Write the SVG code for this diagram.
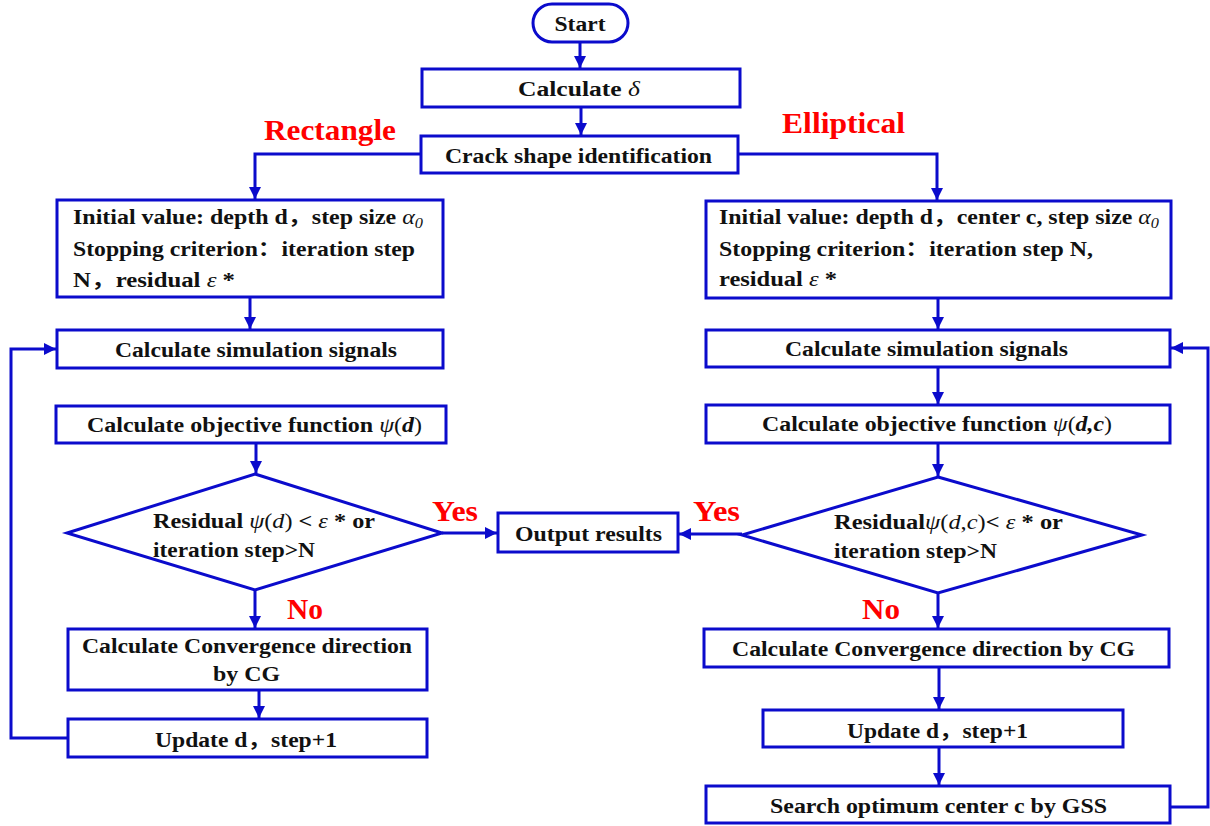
<svg xmlns="http://www.w3.org/2000/svg" width="1210" height="826" viewBox="0 0 1210 826">
<defs>
<style>
.box{fill:#fff;stroke:#0b0bcc;stroke-width:3}
.ln{fill:none;stroke:#0b0bcc;stroke-width:3}
.t{font-family:"Liberation Serif","Noto Sans CJK SC",serif;font-weight:bold;font-size:20.5px;fill:#111}
.c{text-anchor:middle}
.m{font-style:italic;font-weight:normal}
.mb{font-style:italic;font-weight:bold}
.red{font-family:"Liberation Serif",serif;font-weight:bold;font-size:30px;fill:#ff0000}
</style>
<marker id="ah" viewBox="0 0 12 12" refX="12" refY="6" markerWidth="12" markerHeight="12" markerUnits="userSpaceOnUse" orient="auto"><path d="M0,0 L12,6 L0,12 z" fill="#0b0bcc"/></marker>
</defs>
<rect width="1210" height="826" fill="#fff"/>
<g id="connectors">
<path class="ln" d="M580,43 V68" marker-end="url(#ah)"/>
<path class="ln" d="M581,107 V135" marker-end="url(#ah)"/>
<path class="ln" d="M421,154 H255 V199" marker-end="url(#ah)"/>
<path class="ln" d="M738,154 H937 V200" marker-end="url(#ah)"/>
<path class="ln" d="M250,297 V329" marker-end="url(#ah)"/>
<path class="ln" d="M256,443 V473" marker-end="url(#ah)"/>
<path class="ln" d="M255,590 V628" marker-end="url(#ah)"/>
<path class="ln" d="M259,690 V718" marker-end="url(#ah)"/>
<path class="ln" d="M68,738 H11 V349 H56" marker-end="url(#ah)"/>
<path class="ln" d="M442,533 H497" marker-end="url(#ah)"/>
<path class="ln" d="M742,534 H679" marker-end="url(#ah)"/>
<path class="ln" d="M938,298 V329" marker-end="url(#ah)"/>
<path class="ln" d="M938,367 V404" marker-end="url(#ah)"/>
<path class="ln" d="M938,443 V476" marker-end="url(#ah)"/>
<path class="ln" d="M938,593 V628" marker-end="url(#ah)"/>
<path class="ln" d="M939,667 V709" marker-end="url(#ah)"/>
<path class="ln" d="M939,747 V785" marker-end="url(#ah)"/>
<path class="ln" d="M1170,807 H1208 V348 H1171" marker-end="url(#ah)"/>
</g>
<g id="labels">
<text class="red" x="264" y="140" textLength="132" lengthAdjust="spacingAndGlyphs">Rectangle</text>
<text class="red" x="782" y="133" textLength="123" lengthAdjust="spacingAndGlyphs">Elliptical</text>
<text class="red" x="432" y="521" textLength="46" lengthAdjust="spacingAndGlyphs">Yes</text>
<text class="red" x="693" y="521" textLength="47" lengthAdjust="spacingAndGlyphs">Yes</text>
<text class="red" x="287" y="619" textLength="36" lengthAdjust="spacingAndGlyphs">No</text>
<text class="red" x="862" y="619" textLength="38" lengthAdjust="spacingAndGlyphs">No</text>
</g>
<g id="start"><rect class="box" x="533" y="4" width="95" height="38" rx="19"/><text class="t c" x="580" y="31" textLength="51" lengthAdjust="spacingAndGlyphs">Start</text></g>
<g id="calc-delta"><rect class="box" x="422" y="69" width="318" height="38"/><text class="t c" x="579" y="96" textLength="122" lengthAdjust="spacingAndGlyphs">Calculate <tspan class="m">δ</tspan></text></g>
<g id="crack"><rect class="box" x="421" y="136" width="317" height="37"/><text class="t c" x="578.5" y="163" textLength="267" lengthAdjust="spacingAndGlyphs">Crack shape identification</text></g>
<g id="init-left"><rect class="box" x="57" y="200" width="386" height="97"/>
<text class="t" x="73" y="224" textLength="350" lengthAdjust="spacingAndGlyphs">Initial value: depth d，step size <tspan class="m">α</tspan><tspan class="m" font-size="14" dy="4">0</tspan></text>
<text class="t" x="73" y="256" textLength="342" lengthAdjust="spacingAndGlyphs">Stopping criterion：iteration step</text>
<text class="t" x="73" y="287" textLength="162" lengthAdjust="spacingAndGlyphs">N，residual <tspan class="m">ε</tspan> *</text></g>
<g id="init-right"><rect class="box" x="706" y="201" width="465" height="97"/>
<text class="t" x="719" y="224" textLength="440" lengthAdjust="spacingAndGlyphs">Initial value: depth d，center c, step size <tspan class="m">α</tspan><tspan class="m" font-size="14" dy="4">0</tspan></text>
<text class="t" x="719" y="256" textLength="374" lengthAdjust="spacingAndGlyphs">Stopping criterion：iteration step N,</text>
<text class="t" x="719" y="286" textLength="118" lengthAdjust="spacingAndGlyphs">residual <tspan class="m">ε</tspan> *</text></g>
<g id="sim-left"><rect class="box" x="57" y="330" width="386" height="38"/><text class="t c" x="256" y="357" textLength="282" lengthAdjust="spacingAndGlyphs">Calculate simulation signals</text></g>
<g id="obj-left"><rect class="box" x="56" y="406" width="390" height="37"/><text class="t c" x="254.5" y="432" textLength="335" lengthAdjust="spacingAndGlyphs">Calculate objective function <tspan class="m">ψ</tspan><tspan font-weight="normal">(</tspan><tspan class="mb">d</tspan><tspan font-weight="normal">)</tspan></text></g>
<g id="dec-left"><polygon class="box" points="255,474 442,533 255,590 67,533"/>
<text class="t" x="153" y="528" textLength="222" lengthAdjust="spacingAndGlyphs">Residual <tspan class="m">ψ</tspan><tspan font-weight="normal">(</tspan><tspan class="m">d</tspan><tspan font-weight="normal">)</tspan> &lt; <tspan class="m">ε</tspan> * or</text>
<text class="t" x="153" y="557" textLength="162" lengthAdjust="spacingAndGlyphs">iteration step&gt;N</text></g>
<g id="output"><rect class="box" x="498" y="513" width="180" height="39"/><text class="t c" x="588.5" y="541" textLength="147" lengthAdjust="spacingAndGlyphs">Output results</text></g>
<g id="conv-left"><rect class="box" x="68" y="629" width="359" height="61"/>
<text class="t c" x="247" y="653" textLength="330" lengthAdjust="spacingAndGlyphs">Calculate Convergence direction</text>
<text class="t c" x="246.5" y="681" textLength="67" lengthAdjust="spacingAndGlyphs">by CG</text></g>
<g id="update-left"><rect class="box" x="68" y="719" width="359" height="38"/><text class="t c" x="246" y="747" textLength="182" lengthAdjust="spacingAndGlyphs">Update d，step+1</text></g>
<g id="sim-right"><rect class="box" x="706" y="330" width="464" height="37"/><text class="t c" x="926.5" y="356" textLength="283" lengthAdjust="spacingAndGlyphs">Calculate simulation signals</text></g>
<g id="obj-right"><rect class="box" x="706" y="405" width="464" height="38"/><text class="t c" x="937" y="431" textLength="350" lengthAdjust="spacingAndGlyphs">Calculate objective function <tspan class="m">ψ</tspan><tspan font-weight="normal">(</tspan><tspan class="mb">d,c</tspan><tspan font-weight="normal">)</tspan></text></g>
<g id="dec-right"><polygon class="box" points="938,477 1142,535 938,593 742,535"/>
<text class="t" x="834" y="529" textLength="229" lengthAdjust="spacingAndGlyphs">Residual<tspan class="m">ψ</tspan><tspan font-weight="normal">(</tspan><tspan class="m">d</tspan><tspan font-weight="normal">,</tspan><tspan class="m">c</tspan><tspan font-weight="normal">)</tspan>&lt; <tspan class="m">ε</tspan> * or</text>
<text class="t" x="834" y="558" textLength="163" lengthAdjust="spacingAndGlyphs">iteration step&gt;N</text></g>
<g id="conv-right"><rect class="box" x="704" y="629" width="465" height="38"/><text class="t c" x="933.5" y="656" textLength="403" lengthAdjust="spacingAndGlyphs">Calculate Convergence direction by CG</text></g>
<g id="update-right"><rect class="box" x="763" y="710" width="360" height="37"/><text class="t c" x="937.5" y="738" textLength="181" lengthAdjust="spacingAndGlyphs">Update d，step+1</text></g>
<g id="search"><rect class="box" x="706" y="786" width="464" height="37"/><text class="t c" x="938.5" y="813" textLength="337" lengthAdjust="spacingAndGlyphs">Search optimum center c by GSS</text></g>
</svg>
